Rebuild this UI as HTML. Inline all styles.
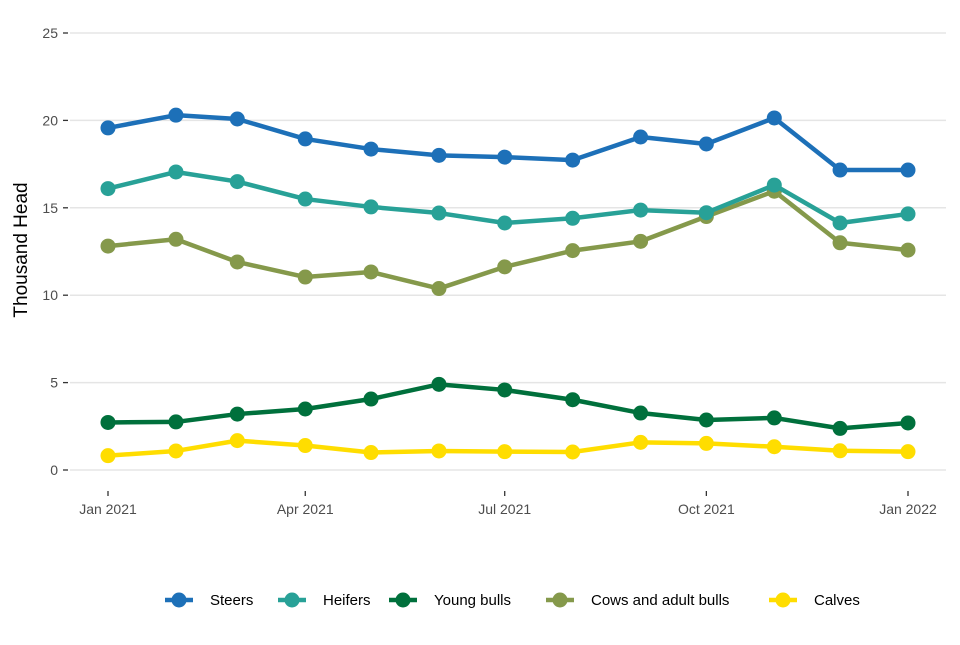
<!DOCTYPE html>
<html><head><meta charset="utf-8"><style>
body{margin:0;background:#fff;font-family:"Liberation Sans",Arial,sans-serif}
svg text{font-family:"Liberation Sans",Arial,sans-serif}
</style></head><body>
<svg id="chart" width="960" height="640" xmlns="http://www.w3.org/2000/svg"></svg>
<script>
const months = ["2021-01-01","2021-02-01","2021-03-01","2021-04-01","2021-05-01","2021-06-01","2021-07-01","2021-08-01","2021-09-01","2021-10-01","2021-11-01","2021-12-01","2022-01-01"];
const steers = [19.57,20.3,20.08,18.94,18.36,18.0,17.9,17.73,19.05,18.65,20.14,17.16,17.16];
const heifers = [16.1,17.05,16.5,15.5,15.05,14.7,14.13,14.4,14.87,14.72,16.3,14.13,14.65];
const youngBulls = [2.72,2.75,3.2,3.49,4.06,4.9,4.58,4.02,3.26,2.86,2.98,2.38,2.69];
const cows = [12.81,13.2,11.9,11.04,11.33,10.38,11.62,12.55,13.08,14.5,15.95,13.0,12.58];
const calves = [0.82,1.09,1.68,1.4,1.0,1.09,1.05,1.03,1.58,1.52,1.33,1.1,1.05];
const yTicks = [0,5,10,15,20,25];
const xTickDates = ["2021-01-01","2021-04-01","2021-07-01","2021-10-01","2022-01-01"];
const xTickLabels = ["Jan 2021","Apr 2021","Jul 2021","Oct 2021","Jan 2022"];
const seriesNames = ["Steers","Heifers","Young bulls","Cows and adult bulls","Calves"];

const NS="http://www.w3.org/2000/svg";
const svg=document.getElementById('chart');
const t0=Date.parse("2021-01-01"), t1=Date.parse("2022-01-01");
function x(d){return 108+(Date.parse(d)-t0)/(t1-t0)*800;}
function y(v){return 470-v*(437/25);}
function mk(tag,attrs,parent){const e=document.createElementNS(NS,tag);for(const k in attrs)e.setAttribute(k,attrs[k]);(parent||svg).appendChild(e);return e;}

yTicks.forEach(v=>{
  const g=mk('line',{x1:70,x2:946,y1:y(v),y2:y(v),stroke:'#e5e5e5','stroke-width':1.5});
  
  
  const tk=mk('line',{x1:63,x2:68,y1:y(v),y2:y(v),stroke:'#333','stroke-width':1.3});
  
  
  const t=mk('text',{x:58,y:y(v)+5,'text-anchor':'end','font-size':14,fill:'#4d4d4d'});
  t.textContent=v;
  
  
});
xTickDates.forEach((d,i)=>{
  const tk=mk('line',{x1:x(d),x2:x(d),y1:491,y2:496,stroke:'#333','stroke-width':1.3});
  
  
  const t=mk('text',{x:x(d),y:514,'text-anchor':'middle','font-size':14,fill:'#4d4d4d'});
  t.textContent=xTickLabels[i];
  
  
});
const yt=mk('text',{x:0,y:0,transform:'translate(27,250) rotate(-90)','text-anchor':'middle','font-size':19,fill:'#000'});
yt.textContent='Thousand Head';



const data=[steers,heifers,youngBulls,cows,calves];
const colors=['#1d70b8','#28a197','#00703c','#85994b','#ffdd00'];
const order=[4,2,3,1,0];
order.forEach(si=>{
  const vals=data[si];
  const g=mk('g',{});
  
  
  const p=mk('polyline',{points:vals.map((v,i)=>x(months[i])+','+y(v)).join(' '),fill:'none',stroke:colors[si],'stroke-width':4.5,'stroke-linejoin':'round'},g);
  
  
  vals.forEach((v,i)=>{
    const c=mk('circle',{cx:x(months[i]),cy:y(v),r:7.5,fill:colors[si]},g);
    
    
  });
});

const legX=[179,292,403,560,783];
seriesNames.forEach((n,i)=>{
  const g=mk('g',{});
  
  
  mk('line',{x1:legX[i]-14,x2:legX[i]+14,y1:600,y2:600,stroke:colors[i],'stroke-width':4.5},g);
  mk('circle',{cx:legX[i],cy:600,r:7.5,fill:colors[i]},g);
  const t=mk('text',{x:legX[i]+31,y:605,'font-size':15,fill:'#000'},g);
  t.textContent=n;
});
</script>
</body></html>
